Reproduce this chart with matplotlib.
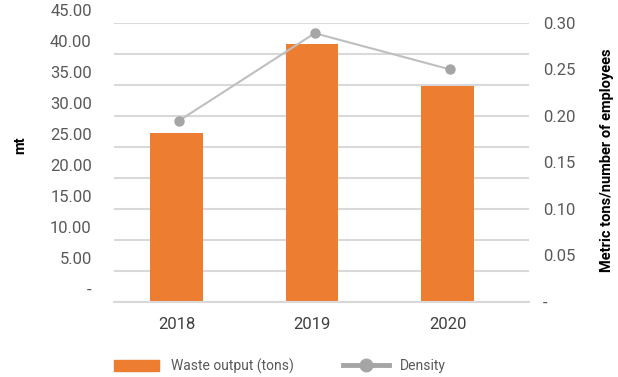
import numpy as np
import matplotlib
matplotlib.use('Agg')
import matplotlib.pyplot as plt
from matplotlib.patches import Patch
from matplotlib.lines import Line2D
from matplotlib.transforms import ScaledTranslation

plt.rcParams['font.family'] = ['Roboto', 'DejaVu Sans']

years = ['2018', '2019', '2020']
waste = [27.2, 41.6, 34.9]        # tons
density = [0.195, 0.289, 0.250]   # metric tons / number of employees

left_ticks = np.arange(0, 46, 5)
right_ticks = np.arange(0, 0.31, 0.05)

orange = '#ED7D31'
grid_col = '#D9D9D9'
text_col = '#595959'

fig = plt.figure(figsize=(6.18, 3.77), dpi=100)
ax = fig.add_axes([0.1845, 0.199, 0.6715, 0.74])
x = np.arange(len(years))
ax.bar(x, waste, width=0.39, color=orange, zorder=2)
ax.set_xlim(-0.46, 2.6)
ax.set_ylim(0, 45)
ax.set_yticks(left_ticks)
ax.set_yticklabels(['-' if v == 0 else '%.2f' % v for v in left_ticks])
ax.set_xticks(x)
ax.set_xticklabels(years, fontsize=12, color='#404040')
ax.grid(axis='y', color=grid_col, linewidth=1.5, zorder=0)
ax.set_axisbelow(True)
for s in ['top', 'left', 'right']:
    ax.spines[s].set_visible(False)
ax.spines['bottom'].set_color(grid_col)
ax.spines['bottom'].set_linewidth(1.5)
ax.tick_params(axis='both', length=0)
ax.tick_params(axis='y', pad=16, labelsize=12, labelcolor=text_col)
ax.tick_params(axis='x', pad=11)
# left labels sit a bit above their gridlines in the original
off = ScaledTranslation(0, 0.13, fig.dpi_scale_trans)
for lab in ax.get_yticklabels():
    lab.set_transform(lab.get_transform() + off)

ax2 = ax.twinx()
ax2.plot(x + 0.02, density, color='#BFBFBF', linewidth=1.5, marker='o',
         markersize=6.5, markerfacecolor='#A5A5A5', markeredgecolor='#A5A5A5')
ax2.set_ylim(0, 0.30)
ax2.set_yticks(right_ticks)
ax2.set_yticklabels(['-' if v < 1e-9 else '%.2f' % v for v in right_ticks])
ax2.tick_params(axis='y', length=0, pad=10, labelsize=12, labelcolor=text_col)
for s in ['top', 'left', 'right', 'bottom']:
    ax2.spines[s].set_visible(False)

fig.text(20/618, 1 - 145/377, 'mt', rotation=90, ha='center', va='center',
         fontsize=10.5, fontweight='bold')
fig.text(607/618, 1 - 160/377, 'Metric tons/number of employees', rotation=90,
         ha='center', va='center', fontsize=10.5, fontweight='bold')

handles = [Patch(color=orange),
           Line2D([], [], color='#A5A5A5', linewidth=3.5, marker='o',
                  markersize=9, markerfacecolor='#A5A5A5')]
fig.legend(handles, ['Waste output (tons)', 'Density'], loc='center',
           bbox_to_anchor=(0.453, 0.029), ncol=2, frameon=False, fontsize=10,
           labelcolor=text_col, handlelength=3.3, handleheight=0.8,
           handletextpad=0.8, columnspacing=3.6)

fig.savefig('out.png', dpi=100)
